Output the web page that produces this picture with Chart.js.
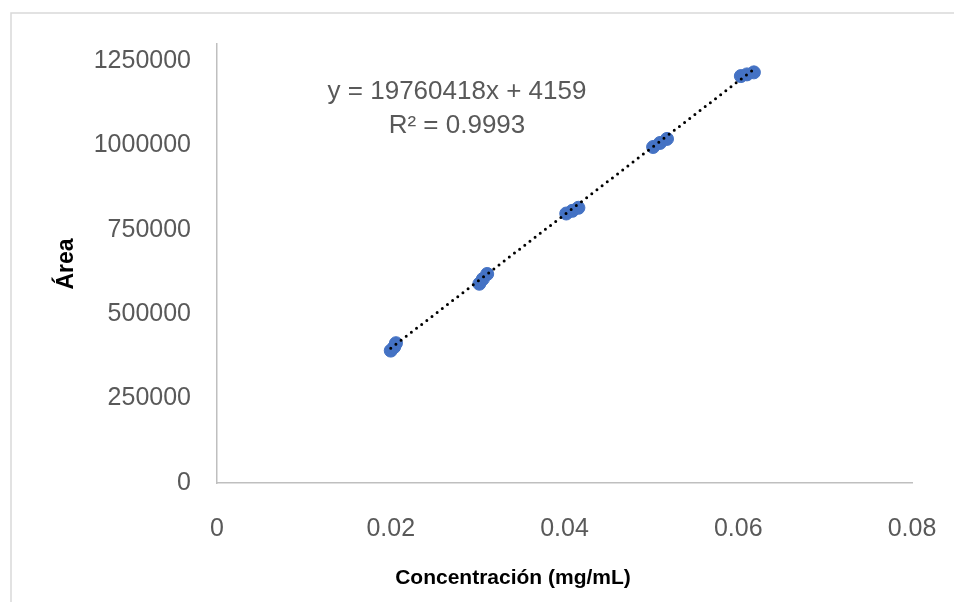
<!DOCTYPE html>
<html>
<head>
<meta charset="utf-8">
<script src="https://cdn.jsdelivr.net/npm/chart.js@4.4.1/dist/chart.umd.min.js"></script>
<style>
  html, body { margin: 0; background: #fff; }
  canvas { display: block; }
</style>
</head>
<body>
<canvas id="calib" width="954" height="602"></canvas>
<script>
// --- values (triplicates per level) ---
const concentrations = [0.0200, 0.0204, 0.0206, 0.0302, 0.0306, 0.0311, 0.0402, 0.0409, 0.0416,
                        0.0502, 0.0510, 0.0518, 0.0603, 0.0610, 0.0618];
const areas = [392000, 403000, 414000, 590000, 604000, 619000, 798000, 806000, 815000,
               995000, 1007000, 1019000, 1205000, 1210000, 1216000];
const xTicks = [0, 0.02, 0.04, 0.06, 0.08];
const yTicks = [0, 250000, 500000, 750000, 1000000, 1250000];
const slope = 19760418;   // from the trendline label
const intercept = 4159;
const rSquared = '0.9993';

const TEXT_GREY = '#595959';
const FONT = '"Liberation Sans", Arial, sans-serif';

const points = concentrations.map((c, i) => ({ x: c, y: areas[i] }));
const xMin = Math.min(...concentrations);
const xMax = Math.max(...concentrations);
const trend = [xMin, xMax].map(x => ({ x: x, y: slope * x + intercept }));

// border, axis titles and trendline label
const decor = {
    id: 'decor',
    beforeDraw(chart) {
        const ctx = chart.ctx;
        ctx.save();
        ctx.fillStyle = '#fff';
        ctx.fillRect(0, 0, chart.width, chart.height);
        ctx.strokeStyle = '#d9d9d9';
        ctx.lineWidth = 1.5;
        ctx.strokeRect(11, 13, chart.width + 20, chart.height + 20);
        ctx.restore();
    },
    afterDraw(chart) {
        const ctx = chart.ctx;
        ctx.save();
        ctx.textAlign = 'center';
        ctx.textBaseline = 'middle';

        ctx.fillStyle = TEXT_GREY;
        ctx.font = '26px ' + FONT;
        ctx.fillText(`y = ${slope}x + ${intercept}`, 457, 92);
        ctx.fillText(`R² = ${rSquared}`, 457, 126);

        ctx.fillStyle = '#000';
        ctx.font = 'bold 21px ' + FONT;
        ctx.fillText('Concentración (mg/mL)', 513, 578);
        ctx.font = 'bold 23px ' + FONT;
        ctx.translate(67, 264);
        ctx.rotate(-Math.PI / 2);
        ctx.fillText('Área', 0, 0);
        ctx.restore();
    }
};

// keep tick-label overflow from shrinking the plot area
function noScalePadding(s) {
    s.paddingLeft = 0;
    s.paddingRight = 0;
    s.paddingTop = 0;
    s.paddingBottom = 0;
}

new Chart(document.getElementById('calib'), {
    type: 'scatter',
    data: {
        datasets: [
            {
                label: 'Tendencia',
                data: trend,
                showLine: true,
                borderColor: '#000',
                borderWidth: 3,
                borderDash: [0, 6.5],
                borderCapStyle: 'round',
                pointRadius: 0
            },
            {
                label: 'Área',
                data: points,
                backgroundColor: '#4472c4',
                borderColor: '#4472c4',
                borderWidth: 1,
                pointRadius: 6.5
            }
        ]
    },
    options: {
        responsive: false,
        animation: false,
        devicePixelRatio: 1,
        layout: { padding: { left: 0, top: 44, right: 42, bottom: 0 } },
        plugins: { legend: { display: false }, tooltip: { enabled: false } },
        scales: {
            x: {
                type: 'linear',
                min: 0,
                max: 0.08,
                afterBuildTicks: s => { s.ticks = xTicks.map(v => ({ value: v })); },
                afterFit: s => { s.height = 119; noScalePadding(s); },
                grid: { display: false },
                border: { display: true, color: '#bfbfbf', width: 1.5 },
                ticks: {
                    color: TEXT_GREY,
                    font: { family: FONT, size: 25 },
                    padding: 23,
                    maxRotation: 0,
                    callback: v => String(Number(v.toFixed(2)))
                }
            },
            y: {
                type: 'linear',
                min: 0,
                max: 1300000,
                afterBuildTicks: s => { s.ticks = yTicks.map(v => ({ value: v })); },
                afterFit: s => { s.width = 217; noScalePadding(s); },
                grid: { display: false },
                border: { display: true, color: '#bfbfbf', width: 1.5 },
                ticks: {
                    color: TEXT_GREY,
                    font: { family: FONT, size: 25 },
                    padding: 18,
                    callback: v => String(v)
                }
            }
        }
    },
    plugins: [decor]
});
</script>
</body>
</html>
